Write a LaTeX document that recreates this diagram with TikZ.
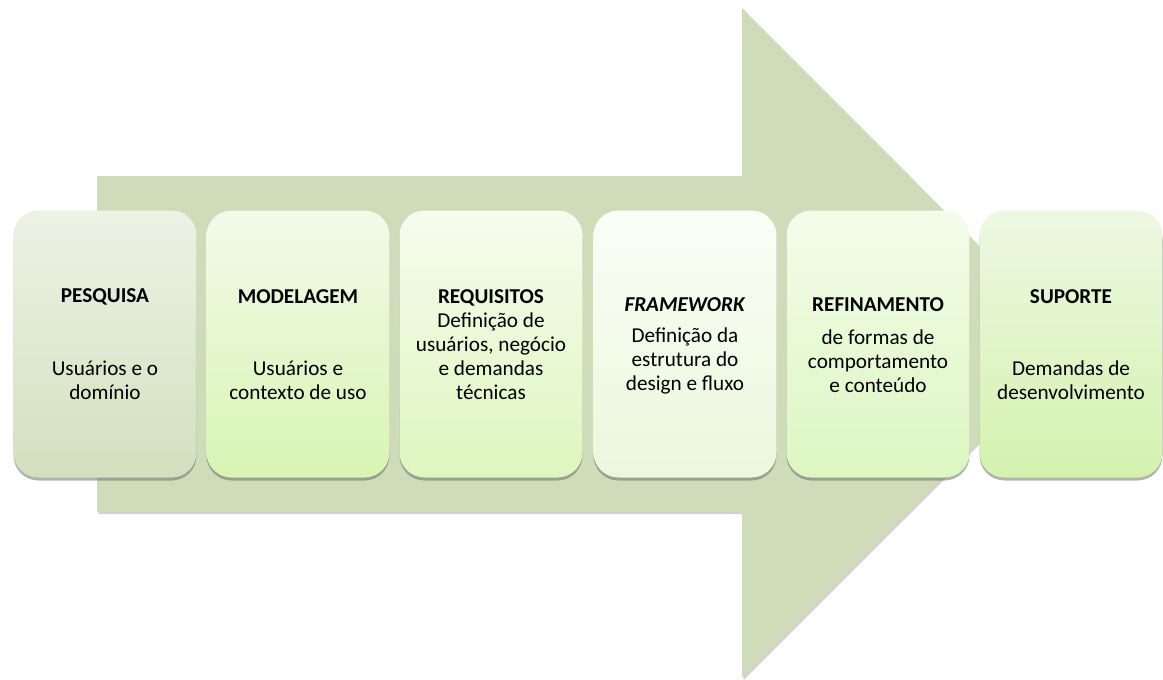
\documentclass[tikz,border=0pt]{standalone}
\usepackage{fontspec}
\setmainfont{Carlito}
\usetikzlibrary{shadows,shadings}

\definecolor{arrowfill}{HTML}{CFDCB9}
\definecolor{topA}{HTML}{EDF2E5}\definecolor{botA}{HTML}{D3E0BE}
\definecolor{topB}{HTML}{F2FAEA}\definecolor{botB}{HTML}{D8F5B2}
\definecolor{topC}{HTML}{F7FCEF}\definecolor{botC}{HTML}{DDF6BE}
\definecolor{topD}{HTML}{FBFEF6}\definecolor{botD}{HTML}{EBF7DD}
\definecolor{topE}{HTML}{F4FCEA}\definecolor{botE}{HTML}{DCF7C1}
\definecolor{topF}{HTML}{EDF8E2}\definecolor{botF}{HTML}{D4F2AE}

\tikzset{
  phase/.style={
    rounded corners=25pt, minimum width=183pt, minimum height=267pt,
    inner sep=0pt, draw=none,
    drop shadow={shadow xshift=0pt, shadow yshift=-3pt, opacity=0.5, fill=black!60}
  },
  phasetext/.style={align=center, inner sep=0pt,
    font=\fontsize{21.2}{24}\selectfont, text=black}
}

\begin{document}
\begin{tikzpicture}[x=1pt, y=-1pt]
  \useasboundingbox (0,0) rectangle (1163,680);

  % big background arrow
  \fill[arrowfill, drop shadow={shadow xshift=1.5pt, shadow yshift=-2pt, opacity=0.3, fill=black!60}]
    (97,176) -- (742,176) -- (742,8) -- (1077,343.5) -- (742,678) -- (742,512) -- (97,512) -- cycle;

  % phase boxes
  \node[phase, top color=topA, bottom color=botA] (b1) at (105,344) {};
  \node[phase, top color=topB, bottom color=botB] (b2) at (298,344) {};
  \node[phase, top color=topC, bottom color=botC] (b3) at (491,344) {};
  \node[phase, top color=topD, bottom color=botD] (b4) at (685,344) {};
  \node[phase, top color=topE, bottom color=botE] (b5) at (878,344) {};
  \node[phase, top color=topF, bottom color=botF] (b6) at (1071,344) {};

  % texts
  \node[phasetext] (t1) at (105,297) {\textbf{PESQUISA}};
  \node[phasetext] (s1) at (105,380) {Usuários e o\\domínio};

  \node[phasetext] (t2) at (298,297) {\textbf{MODELAGEM}};
  \node[phasetext] (s2) at (298,380) {Usuários e\\contexto de uso};

  \node[phasetext] (t3) at (491,345) {\textbf{REQUISITOS}\\Definição de\\usuários, negócio\\e demandas\\técnicas};

  \node[phasetext] (t4) at (685,305) {\textbf{\textit{FRAMEWORK}}};
  \node[phasetext] (s4) at (685,361) {Definição da\\estrutura do\\design e fluxo};

  \node[phasetext] (t5) at (878,305) {\textbf{REFINAMENTO}};
  \node[phasetext] (s5) at (878,361) {de formas de\\comportamento\\e conteúdo};

  \node[phasetext] (t6) at (1071,297) {\textbf{SUPORTE}};
  \node[phasetext] (s6) at (1071,380) {Demandas de\\desenvolvimento};
\end{tikzpicture}
\end{document}
